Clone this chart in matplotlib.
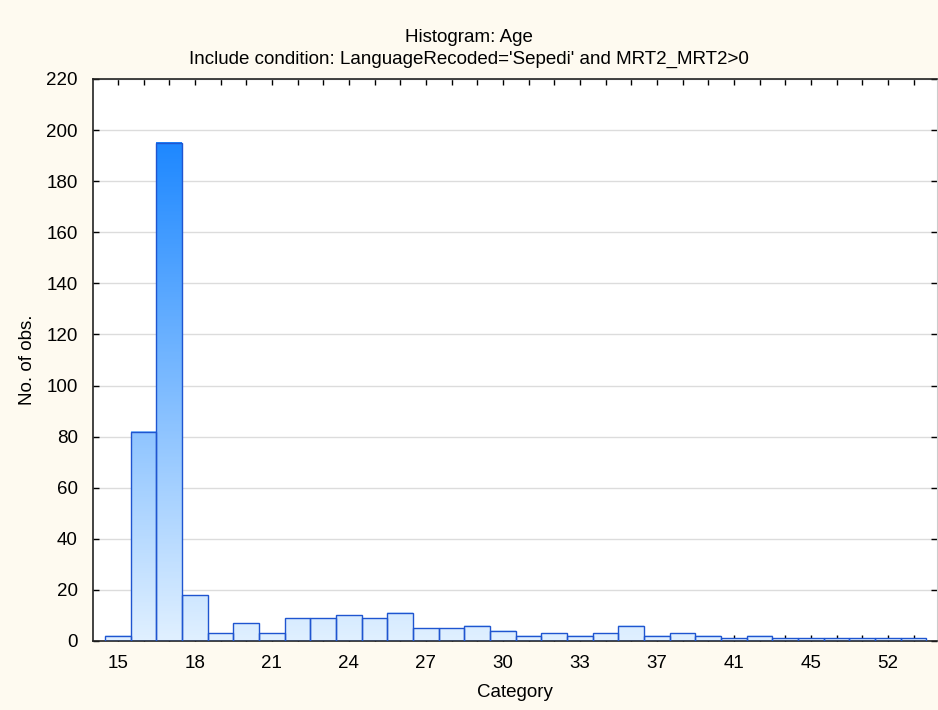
import numpy as np
import matplotlib as mpl
mpl.use("Agg")
from matplotlib import pyplot as plt
from matplotlib.colors import LinearSegmentedColormap

plt.rcParams["font.family"] = ["Liberation Sans", "DejaVu Sans"]

# histogram counts, one per age category (32 bins)
counts = [2, 82, 195, 18, 3, 7, 3, 9, 9, 10, 9, 11, 5, 5, 6, 4,
          2, 3, 2, 3, 6, 2, 3, 2, 1, 2, 1, 1, 1, 1, 1, 1]
# labels shown on every third bin
tick_labels = ["15", "18", "21", "24", "27", "30", "33", "37", "41", "45", "52"]

cmap = LinearSegmentedColormap.from_list("bluegrad", ["#e0f0ff", "#1e88ff"])
top_val = max(counts)

fig = plt.figure(figsize=(9.38, 7.10), dpi=100, facecolor="#fefaf0")
ax = fig.add_axes([0.0991, 0.0972, 0.9, 0.7916])
ax.set_facecolor("white")

for i, c in enumerate(counts):
    grad = np.linspace(0, c / top_val, 200).reshape(-1, 1)
    ax.imshow(grad, cmap=cmap, vmin=0, vmax=1, origin="lower", aspect="auto",
              extent=(i - 0.5, i + 0.5, 0, c), zorder=2)
    ax.bar(i, c, width=1.0, facecolor="none", edgecolor="#1f55d0", linewidth=1.0, zorder=3)

ax.set_xlim(-0.97, 31.92)
ax.set_ylim(0, 220)
ax.set_yticks(np.arange(0, 221, 20))
ax.set_xticks(np.arange(len(counts)))
ax.set_xticklabels([tick_labels[i // 3] if i % 3 == 0 else "" for i in range(len(counts))])
ax.yaxis.grid(True, color="#dcdcdc", linewidth=1.0, zorder=0)
ax.set_axisbelow(True)
ax.tick_params(direction="in", top=True, right=True, length=4, width=1, labelsize=13.5)
ax.tick_params(axis="y", pad=11)
ax.tick_params(axis="x", pad=10)

for s in ["left", "top", "bottom"]:
    ax.spines[s].set_color("#222222")
    ax.spines[s].set_linewidth(1.2)
ax.spines["right"].set_color("#cccccc")

ax.set_xlabel("Category", fontsize=13.5, labelpad=9)
ax.set_ylabel("No. of obs.", fontsize=13.5, labelpad=7)
fig.text(0.5, 0.9465, "Histogram: Age", ha="center", va="center", fontsize=13.5)
fig.text(0.5, 0.916, "Include condition: LanguageRecoded='Sepedi' and MRT2_MRT2>0",
         ha="center", va="center", fontsize=13.5)

plt.savefig("out.png", dpi=100, facecolor=fig.get_facecolor())
